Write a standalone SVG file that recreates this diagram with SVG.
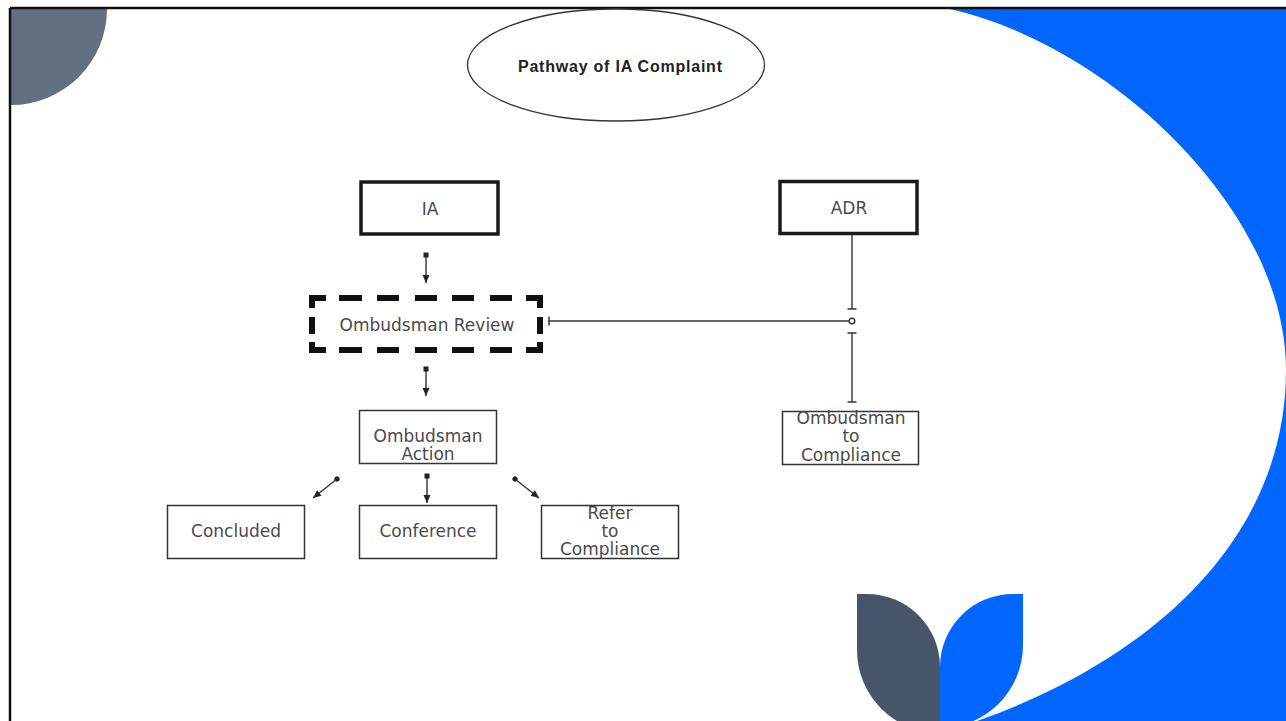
<svg xmlns="http://www.w3.org/2000/svg" width="1286" height="721" viewBox="0 0 1286 721">
<style>
.lbl{font-family:"DejaVu Sans","Noto Sans",sans-serif;font-size:17px;fill:#4a4a4a;text-anchor:middle}
.box{fill:#fff;stroke:#333;stroke-width:1.5}
.tbox{fill:#fff;stroke:#1a1a1a;stroke-width:3.5}
.dash{fill:none;stroke:#111;stroke-width:6;stroke-linecap:butt;stroke-linejoin:miter}
.con{fill:none;stroke:#333;stroke-width:1.4}
</style>
<defs>
<marker id="arr" markerUnits="userSpaceOnUse" markerWidth="10" markerHeight="10" viewBox="0 0 10 10" refX="9" refY="5" orient="auto"><path d="M1,1.5 L9,5 L1,8.5 Z" fill="#222"/></marker>
<marker id="sq" markerUnits="userSpaceOnUse" markerWidth="6" markerHeight="6" viewBox="0 0 6 6" refX="3" refY="3" orient="auto"><rect x="0.5" y="0.5" width="5" height="5" fill="#222"/></marker>
<marker id="dot" markerUnits="userSpaceOnUse" markerWidth="6" markerHeight="6" viewBox="0 0 6 6" refX="3" refY="3" orient="auto"><circle cx="3" cy="3" r="2.6" fill="#222"/></marker>
<marker id="tbar" markerUnits="userSpaceOnUse" markerWidth="4" markerHeight="10" viewBox="0 0 4 10" refX="2" refY="5" orient="auto"><line x1="2" y1="0.5" x2="2" y2="9.5" stroke="#333" stroke-width="1.5"/></marker>
</defs>
<g id="background">
<rect x="0" y="0" width="1286" height="721" fill="#fff"/>
<path d="M950,9 C1110,45 1286,210 1286,370 C1286,540 1150,660 977,721 L1286,721 L1286,9 Z" fill="#0066ff"/>
<path d="M11,9 H107 A96,96 0 0 1 11,105 Z" fill="#637081"/>
<path d="M857,594 H867 A73,73 0 0 1 940,667 V733 A83,83 0 0 1 857,650 Z" fill="#46556a"/>
<path d="M1023,594 H1013 A73,73 0 0 0 940,667 V728 A83,83 0 0 0 1023,645 Z" fill="#0066ff"/>
<line x1="10" y1="8" x2="1286" y2="8" stroke="#111" stroke-width="2.5"/>
<line x1="10" y1="8" x2="10" y2="721" stroke="#111" stroke-width="2.5"/>
</g>
<g id="title">
<ellipse cx="616" cy="65" rx="148.5" ry="56" fill="#fff" stroke="#333" stroke-width="1.3"/>
<text x="620" y="72" font-family="'Liberation Sans',Arial,sans-serif" font-weight="bold" font-size="16" fill="#222" text-anchor="middle" textLength="204">Pathway of IA Complaint</text>
</g>
<g id="connectors">
<line class="con" x1="426" y1="255" x2="426" y2="283" marker-start="url(#sq)" marker-end="url(#arr)"/>
<line class="con" x1="426" y1="369" x2="426" y2="396" marker-start="url(#sq)" marker-end="url(#arr)"/>
<line class="con" x1="427" y1="476" x2="427" y2="503" marker-start="url(#sq)" marker-end="url(#arr)"/>
<line class="con" x1="337" y1="479" x2="313" y2="498" marker-start="url(#dot)" marker-end="url(#arr)"/>
<line class="con" x1="515" y1="479" x2="539" y2="498" marker-start="url(#dot)" marker-end="url(#arr)"/>
<line class="con" x1="852" y1="235" x2="852" y2="309" marker-end="url(#tbar)"/>
<line class="con" x1="852" y1="333" x2="852" y2="402" marker-start="url(#tbar)" marker-end="url(#tbar)"/>
<line class="con" x1="549" y1="321" x2="849" y2="321" marker-start="url(#tbar)"/>
<circle cx="852" cy="321" r="2.8" fill="#fff" stroke="#333" stroke-width="1.4"/>
</g>
<g id="node-ia">
<rect class="tbox" x="361" y="182" width="137" height="52"/>
<text class="lbl" x="430" y="215">IA</text>
</g>
<g id="node-adr">
<rect class="tbox" x="780" y="181.5" width="137" height="52"/>
<text class="lbl" x="849" y="214">ADR</text>
</g>
<g id="node-review">
<path class="dash" d="M312,308 V298 H326"/>
<path class="dash" d="M339,298 H362 M377,298 H399 M415,298 H437 M452,298 H474 M490,298 H512"/>
<path class="dash" d="M526,298 H540 V308"/>
<path class="dash" d="M312,317 V334 M540,317 V334"/>
<path class="dash" d="M312,342 V350 H326"/>
<path class="dash" d="M339,350 H362 M377,350 H399 M415,350 H437 M452,350 H474 M490,350 H512"/>
<path class="dash" d="M526,350 H540 V342"/>
<text class="lbl" x="427" y="331">Ombudsman Review</text>
</g>
<g id="node-action">
<rect class="box" x="359.5" y="410.5" width="137" height="53"/>
<text class="lbl" x="428" y="442">Ombudsman</text>
<text class="lbl" x="428" y="460">Action</text>
</g>
<g id="node-concluded">
<rect class="box" x="167.5" y="505.5" width="137" height="53"/>
<text class="lbl" x="236" y="537">Concluded</text>
</g>
<g id="node-conference">
<rect class="box" x="359.5" y="505.5" width="137" height="53"/>
<text class="lbl" x="428" y="537">Conference</text>
</g>
<g id="node-refer">
<rect class="box" x="541.5" y="505.5" width="137" height="53"/>
<text class="lbl" x="610" y="519">Refer</text>
<text class="lbl" x="610" y="537">to</text>
<text class="lbl" x="610" y="555">Compliance</text>
</g>
<g id="node-otc">
<rect class="box" x="782.5" y="411.5" width="136" height="53"/>
<text class="lbl" x="851" y="424">Ombudsman</text>
<text class="lbl" x="851" y="442">to</text>
<text class="lbl" x="851" y="461">Compliance</text>
</g>
</svg>
